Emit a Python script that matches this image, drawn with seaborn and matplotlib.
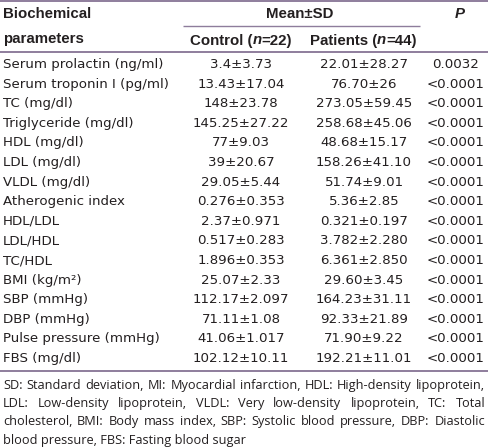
import matplotlib
matplotlib.use("Agg")
import matplotlib.pyplot as plt
import seaborn as sns

# ---------------- data ----------------
parameters = [
    "Serum prolactin (ng/ml)", "Serum troponin I (pg/ml)", "TC (mg/dl)",
    "Triglyceride (mg/dl)", "HDL (mg/dl)", "LDL (mg/dl)", "VLDL (mg/dl)",
    "Atherogenic index", "HDL/LDL", "LDL/HDL", "TC/HDL", "BMI (kg/m\u00b2)",
    "SBP (mmHg)", "DBP (mmHg)", "Pulse pressure (mmHg)", "FBS (mg/dl)",
]
control = [
    "3.4\u00b13.73", "13.43\u00b117.04", "148\u00b123.78", "145.25\u00b127.22",
    "77\u00b19.03", "39\u00b120.67", "29.05\u00b15.44", "0.276\u00b10.353",
    "2.37\u00b10.971", "0.517\u00b10.283", "1.896\u00b10.353", "25.07\u00b12.33",
    "112.17\u00b12.097", "71.11\u00b11.08", "41.06\u00b11.017", "102.12\u00b110.11",
]
patients = [
    "22.01\u00b128.27", "76.70\u00b126", "273.05\u00b159.45", "258.68\u00b145.06",
    "48.68\u00b115.17", "158.26\u00b141.10", "51.74\u00b19.01", "5.36\u00b12.85",
    "0.321\u00b10.197", "3.782\u00b12.280", "6.361\u00b12.850", "29.60\u00b13.45",
    "164.23\u00b131.11", "92.33\u00b121.89", "71.90\u00b19.22", "192.21\u00b111.01",
]
p_values = ["0.0032"] + ["<0.0001"] * 15
footnote_lines = [
    "SD: Standard deviation, MI: Myocardial infarction, HDL: High-density lipoprotein,",
    "LDL: Low-density lipoprotein, VLDL: Very low-density lipoprotein, TC: Total",
    "cholesterol, BMI: Body mass index, SBP: Systolic blood pressure, DBP: Diastolic",
    "blood pressure, FBS: Fasting blood sugar",
]

# ---------------- style ----------------
sns.set_theme(style="white")
BODY = ["DejaVu Sans"]
FOOT = ["Open Sans", "DejaVu Sans"]
HEAD = ["Liberation Sans", "DejaVu Sans"]
plt.rcParams["font.family"] = BODY
RULE = "#8e7d9c"
TXT = "#231f20"
FS = 9.6
HFS = 10.8

W, H = 488, 448
fig = plt.figure(figsize=(W / 100, H / 100), dpi=100)
ax = fig.add_axes([0, 0, 1, 1])
ax.set_xlim(0, W)
ax.set_ylim(H, 0)
ax.axis("off")
fig.canvas.draw()
renderer = fig.canvas.get_renderer()


def width_of(s, **kw):
    t = ax.text(0, 0, s, **kw)
    bb = t.get_window_extent(renderer)
    t.remove()
    return bb.width  # pixels == data units here


def runs_centered(x, y, runs, **kw):
    widths = [width_of(s, fontstyle=st, **kw) for s, st in runs]
    cur = x - sum(widths) / 2
    for (s, st), w in zip(runs, widths):
        ax.text(cur, y, s, fontstyle=st, ha="left", va="baseline", **kw)
        cur += w


# rules
ax.plot([0, W], [1, 1], color=RULE, lw=1.4, solid_capstyle="butt")
ax.plot([183, 420], [26, 26], color=RULE, lw=1.0, solid_capstyle="butt")
ax.plot([0, W], [52, 52], color=RULE, lw=1.4, solid_capstyle="butt")

# header (baseline positions)
hk = dict(family=HEAD, fontweight="bold", fontsize=HFS, color=TXT)
ax.text(3, 17.5, "Biochemical", ha="left", va="baseline", **hk)
ax.text(3, 42.5, "parameters", ha="left", va="baseline", **hk)
ax.text(300, 17.5, "Mean\u00b1SD", ha="center", va="baseline", **hk)
ax.text(460, 17.5, "P", ha="center", va="baseline", fontstyle="italic", **hk)
runs_centered(241, 44.5, [("Control (", "normal"), ("n", "italic"), ("=22)", "normal")], **hk)
runs_centered(363, 44.5, [("Patients (", "normal"), ("n", "italic"), ("=44)", "normal")], **hk)

# body rows (baseline)
y0, dy = 68, 19.6
bk = dict(family=BODY, fontsize=FS, color=TXT, va="baseline")
for i, (p, c, pt, pv) in enumerate(zip(parameters, control, patients, p_values)):
    y = y0 + i * dy
    ax.text(3, y, p, ha="left", **bk)
    ax.text(241, y, c, ha="center", **bk)
    ax.text(364, y, pt, ha="center", **bk)
    ax.text(456, y, pv, ha="center", **bk)

y_last = y0 + (len(parameters) - 1) * dy
ax.plot([0, W], [y_last + 9, y_last + 9], color=RULE, lw=1.4, solid_capstyle="butt")

# footnote (justified), font size fitted so the longest line fits
left, right = 3, 485
ffs = 10.2
while ffs > 6 and max(width_of(l, family=FOOT, fontsize=ffs) for l in footnote_lines) > (right - left) - 2:
    ffs -= 0.1
fk = dict(family=FOOT, fontsize=ffs, color=TXT, va="baseline")
fy0, fdy = y_last + 27, 18.2
for j, line in enumerate(footnote_lines):
    y = fy0 + j * fdy
    words = line.split(" ")
    if j == len(footnote_lines) - 1:
        ax.text(left, y, line, ha="left", **fk)
        continue
    ws = [width_of(w, family=FOOT, fontsize=ffs) for w in words]
    gap = (right - left - sum(ws)) / (len(words) - 1)
    cur = left
    for w, wd in zip(words, ws):
        ax.text(cur, y, w, ha="left", **fk)
        cur += wd + gap

fig.savefig("out.png", dpi=100)
